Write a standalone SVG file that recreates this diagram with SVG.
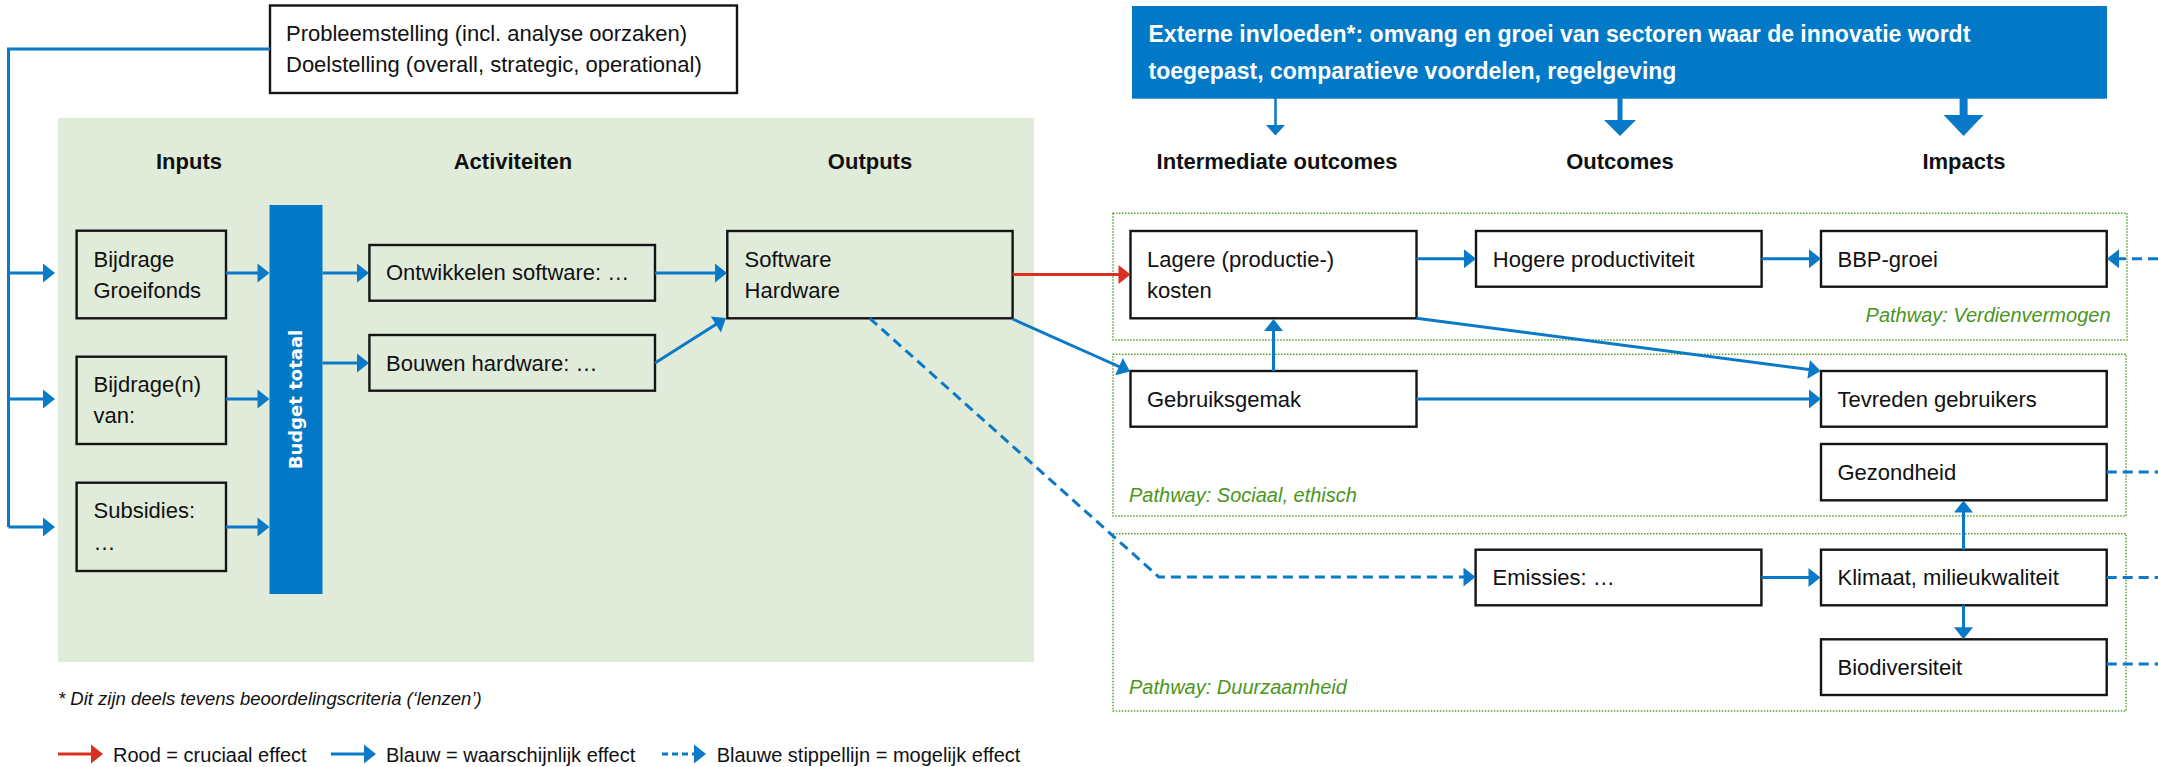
<svg xmlns="http://www.w3.org/2000/svg" width="2158" height="767" viewBox="0 0 2158 767">
<defs>
<style>
.t{font-family:"Liberation Sans",Arial,sans-serif;font-size:22px;fill:#111}
.h{font-family:"Liberation Sans",Arial,sans-serif;font-size:22px;font-weight:bold;fill:#111;text-anchor:middle}
.w{font-family:"Liberation Sans",Arial,sans-serif;font-size:23px;font-weight:bold;fill:#fff}
.pw{font-family:"Liberation Sans",Arial,sans-serif;font-size:20px;font-style:italic;fill:#4a9620}
.lg{font-family:"Liberation Sans",Arial,sans-serif;font-size:20px;fill:#111}
.fn{font-family:"Liberation Sans",Arial,sans-serif;font-size:18.5px;font-style:italic;fill:#111}
.box{fill:none;stroke:#141414;stroke-width:2.4}
.wbox{fill:#fff;stroke:#141414;stroke-width:2.4}
.path{fill:none;stroke:#5c9e2e;stroke-width:1.5;stroke-dasharray:1.5 1.5}
.c{fill:none;stroke:#0a79c7;stroke-width:3;marker-end:url(#ab)}
.cn{fill:none;stroke:#0a79c7;stroke-width:3}
.d{fill:none;stroke:#0a79c7;stroke-width:3;stroke-dasharray:10 6}
.r{fill:none;stroke:#d7301f;stroke-width:3;marker-end:url(#ar)}
</style>
<marker id="ab" markerUnits="userSpaceOnUse" viewBox="0 0 12 20" markerWidth="12" markerHeight="20" refX="6" refY="10" orient="auto" overflow="visible"><path d="M0,0.5 L12,10 L0,19.5 Z" fill="#0a79c7"/></marker>
<marker id="ar" markerUnits="userSpaceOnUse" viewBox="0 0 12 20" markerWidth="12" markerHeight="20" refX="6" refY="10" orient="auto" overflow="visible"><path d="M0,0.5 L12,10 L0,19.5 Z" fill="#d7301f"/></marker>
</defs>

<rect x="58" y="118" width="976" height="544" fill="#e0ecd9"/>

<g id="problem"><rect class="wbox" x="270" y="5.5" width="467" height="87.5"/>
<text class="t" x="286" y="40.5">Probleemstelling (incl. analyse oorzaken)</text>
<text class="t" x="286" y="71.5">Doelstelling (overall, strategic, operational)</text></g>

<g id="externe"><rect x="1132" y="6" width="975" height="92.7" fill="#0179c6"/>
<text class="w" x="1148.5" y="41.7">Externe invloeden*: omvang en groei van sectoren waar de innovatie wordt</text>
<text class="w" x="1148.5" y="79">toegepast, comparatieve voordelen, regelgeving</text>
<line x1="1275.5" y1="98" x2="1275.5" y2="126" stroke="#0a79c7" stroke-width="2.5"/><polygon points="1266,125 1285,125 1275.5,135.5" fill="#0a79c7"/>
<line x1="1620" y1="98" x2="1620" y2="121" stroke="#0a79c7" stroke-width="5"/><polygon points="1604,120 1636,120 1620,136" fill="#0a79c7"/>
<line x1="1963.6" y1="98" x2="1963.6" y2="116" stroke="#0a79c7" stroke-width="8"/><polygon points="1943.6,115 1983.6,115 1963.6,136" fill="#0a79c7"/>
</g>

<g id="headers">
<text class="h" x="189" y="169">Inputs</text>
<text class="h" x="513" y="169">Activiteiten</text>
<text class="h" x="870" y="169">Outputs</text>
<text class="h" x="1277" y="169">Intermediate outcomes</text>
<text class="h" x="1620" y="169">Outcomes</text>
<text class="h" x="1964" y="169">Impacts</text>
</g>

<g id="pathway-verdienvermogen"><rect class="path" x="1113" y="213.3" width="1014" height="126.7"/>
<text class="pw" x="2110.5" y="321.7" text-anchor="end">Pathway: Verdienvermogen</text></g>
<g id="pathway-sociaal"><rect class="path" x="1113" y="354.3" width="1013" height="161.7"/>
<text class="pw" x="1129" y="501.7">Pathway: Sociaal, ethisch</text></g>
<g id="pathway-duurzaamheid"><rect class="path" x="1113" y="533.7" width="1013" height="177.3"/>
<text class="pw" x="1129" y="694">Pathway: Duurzaamheid</text></g>

<g id="in-groeifonds"><rect class="box" x="76.6" y="230.7" width="149.4" height="87.6"/>
<text class="t" x="93.5" y="267">Bijdrage</text><text class="t" x="93.5" y="298">Groeifonds</text></g>
<g id="in-bijdragen"><rect class="box" x="76.6" y="356.7" width="149.4" height="87.3"/>
<text class="t" x="93.5" y="391.7">Bijdrage(n)</text><text class="t" x="93.5" y="423">van:</text></g>
<g id="in-subsidies"><rect class="box" x="76.6" y="482.7" width="149.4" height="88.3"/>
<text class="t" x="93.5" y="518">Subsidies:</text><text class="t" x="93.5" y="550">…</text></g>

<g id="budget"><rect x="269.5" y="205" width="53" height="389" fill="#0179c6"/>
<text transform="translate(302,399.5) rotate(-90)" x="0" y="0" text-anchor="middle" style="font-family:'DejaVu Sans',Verdana,sans-serif;font-size:18px;font-weight:bold;fill:#fff">Budget totaal</text></g>

<g id="act-software"><rect class="box" x="369.4" y="245" width="285.6" height="55.7"/>
<text class="t" x="386" y="280.3">Ontwikkelen software: …</text></g>
<g id="act-hardware"><rect class="box" x="369.4" y="335" width="285.6" height="55.7"/>
<text class="t" x="386" y="370.5">Bouwen hardware: …</text></g>

<g id="out-software"><rect class="box" x="727.3" y="231" width="285.3" height="87.3"/>
<text class="t" x="744.6" y="267">Software</text><text class="t" x="744.6" y="298">Hardware</text></g>

<g id="lagere"><rect class="wbox" x="1130.5" y="231" width="286" height="87.3"/>
<text class="t" x="1147" y="267">Lagere (productie-)</text><text class="t" x="1147" y="298">kosten</text></g>
<g id="hogere"><rect class="wbox" x="1476" y="231" width="285.6" height="55.7"/>
<text class="t" x="1492.8" y="266.5">Hogere productiviteit</text></g>
<g id="bbp"><rect class="wbox" x="1821" y="231" width="285.7" height="55.7"/>
<text class="t" x="1837.5" y="266.5">BBP-groei</text></g>
<g id="gebruiksgemak"><rect class="wbox" x="1130.5" y="371" width="286" height="55.7"/>
<text class="t" x="1147" y="406.5">Gebruiksgemak</text></g>
<g id="tevreden"><rect class="wbox" x="1821" y="371" width="285.7" height="55.7"/>
<text class="t" x="1837.5" y="406.5">Tevreden gebruikers</text></g>
<g id="gezondheid"><rect class="wbox" x="1821" y="444" width="285.7" height="56.3"/>
<text class="t" x="1837.5" y="479.5">Gezondheid</text></g>
<g id="emissies"><rect class="wbox" x="1475.6" y="549.7" width="285.8" height="55.6"/>
<text class="t" x="1492.6" y="585">Emissies: …</text></g>
<g id="klimaat"><rect class="wbox" x="1821" y="549.7" width="285.7" height="55.6"/>
<text class="t" x="1837.5" y="585">Klimaat, milieukwaliteit</text></g>
<g id="biodiversiteit"><rect class="wbox" x="1821" y="639.3" width="285.7" height="55.7"/>
<text class="t" x="1837.5" y="675">Biodiversiteit</text></g>

<g id="connectors">
<path class="cn" d="M270,49 H8.5 V527"/>
<path class="c" d="M8.5,273 H49"/>
<path class="c" d="M8.5,399 H49"/>
<path class="c" d="M8.5,527 H49"/>
<path class="c" d="M226,273 H263.5"/>
<path class="c" d="M226,399 H263.5"/>
<path class="c" d="M226,527 H263.5"/>
<path class="c" d="M322.5,273 H363"/>
<path class="c" d="M322.5,363 H363"/>
<path class="c" d="M655,273 H721"/>
<path class="c" d="M655,363 L720.9,321.2"/>
<path class="r" d="M1012.6,274.5 H1124.5"/>
<path class="c" d="M1012.6,319 L1124.5,369"/>
<path class="c" d="M1273.5,371 V325"/>
<path class="c" d="M1416.5,258.7 H1470"/>
<path class="c" d="M1761.6,258.7 H1815"/>
<path class="c" d="M1416.5,318.3 L1814.6,370.2"/>
<path class="c" d="M1416.5,399 H1815"/>
<path class="c" d="M1761.4,577.5 H1814.5"/>
<path class="c" d="M1963.5,549.7 V506.5"/>
<path class="c" d="M1963.5,605.3 V633.3"/>
<path class="d" d="M869.7,318.3 L1158.8,576.9 H1469.5" marker-end="url(#ab)"/>
<path class="d" d="M2158,258.7 H2113" marker-end="url(#ab)"/>
<path class="d" d="M2106.7,472 H2158"/>
<path class="d" d="M2106.7,577.5 H2158"/>
<path class="d" d="M2106.7,664 H2158"/>
</g>

<g id="footnote"><text class="fn" x="58" y="705">* Dit zijn deels tevens beoordelingscriteria (‘lenzen’)</text></g>

<g id="legend">
<path class="r" d="M58,754 H97"/>
<text class="lg" x="113" y="762">Rood = cruciaal effect</text>
<path class="c" d="M331,754 H370"/>
<text class="lg" x="386" y="762">Blauw = waarschijnlijk effect</text>
<path d="M662,754 H700" fill="none" stroke="#0a79c7" stroke-width="3" stroke-dasharray="6 4" marker-end="url(#ab)"/>
<text class="lg" x="716.7" y="762">Blauwe stippellijn = mogelijk effect</text>
</g>
</svg>
